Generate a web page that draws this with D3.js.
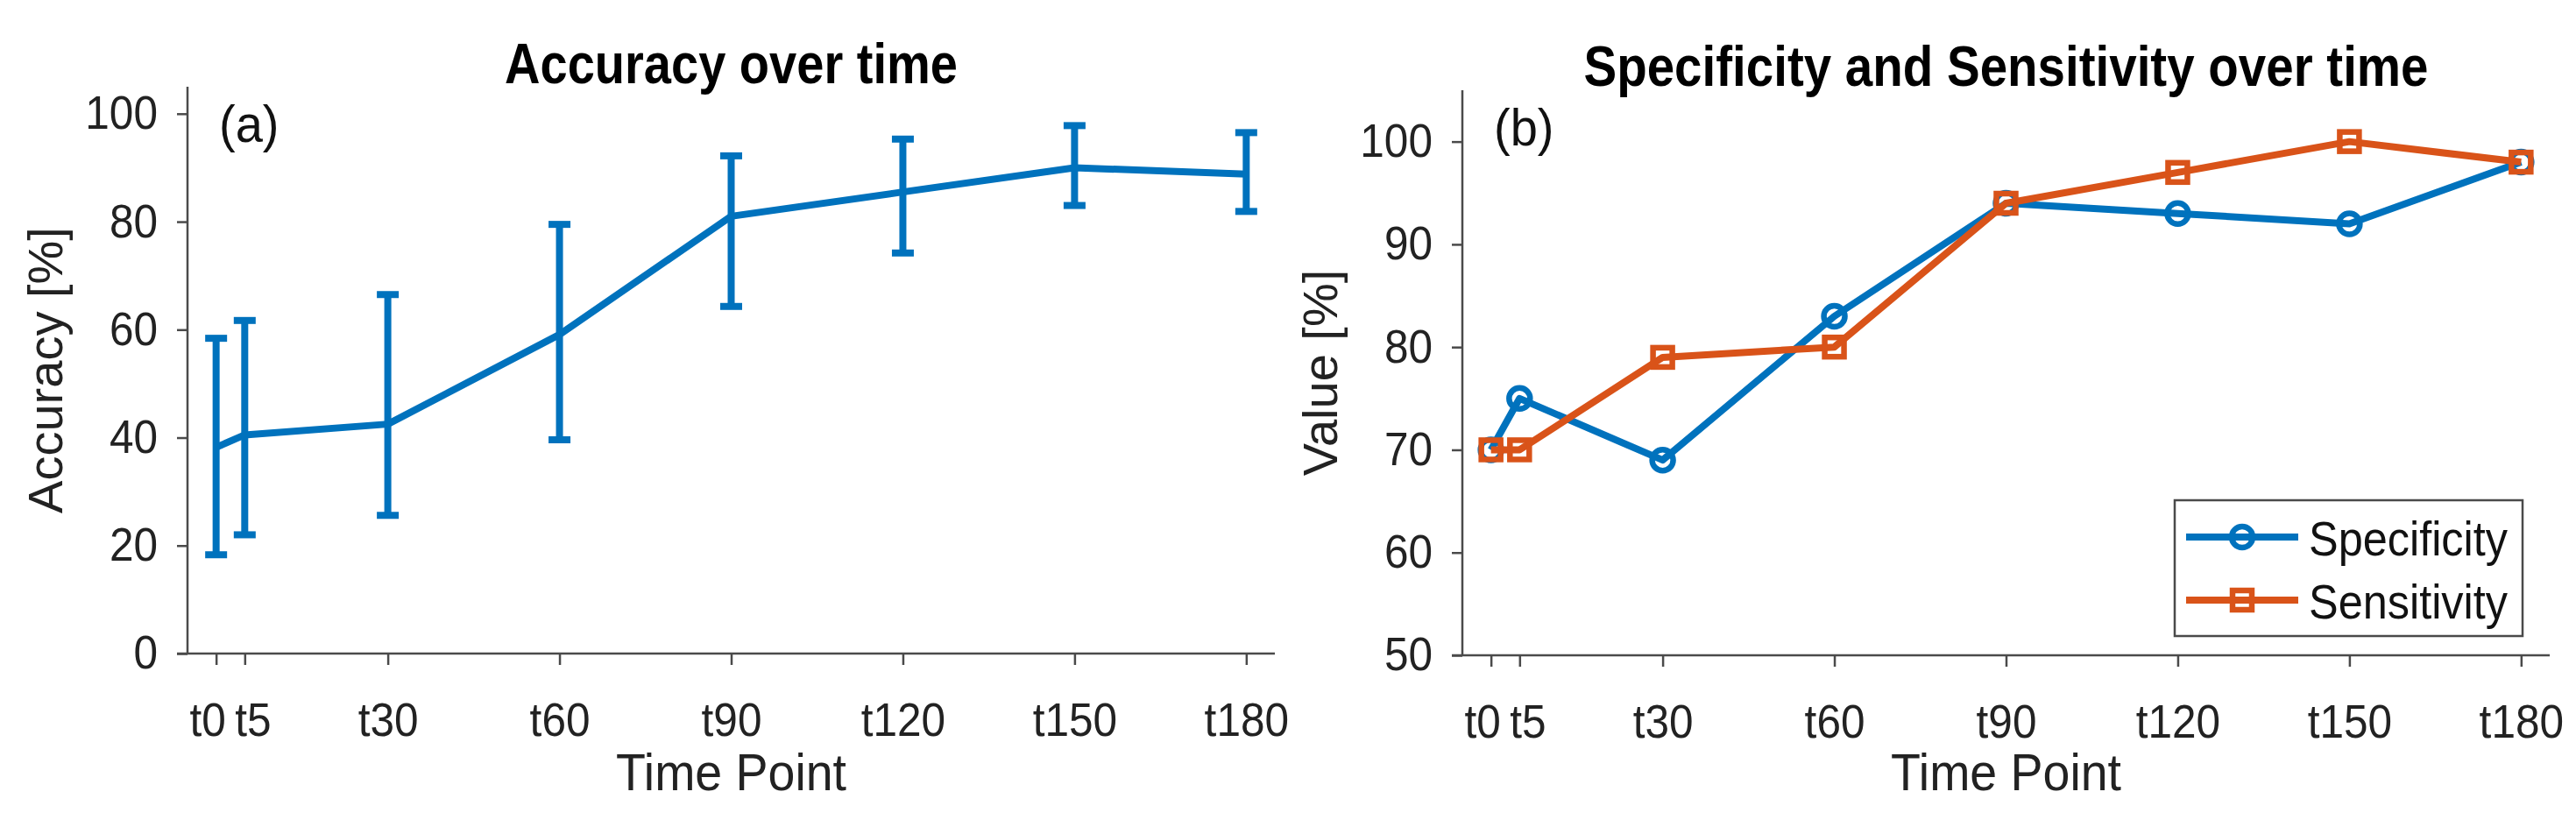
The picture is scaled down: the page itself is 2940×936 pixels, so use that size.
<!DOCTYPE html>
<html lang="en">
<head>
<meta charset="utf-8">
<title>Accuracy, Specificity and Sensitivity over time</title>
<script src="https://cdn.jsdelivr.net/npm/d3@7"></script>
<style>
  body { margin: 0; background: #fff; }
  svg { display: block; font-family: "Liberation Sans", Arial, sans-serif; }
</style>
</head>
<body>
<script>
// data
var timeLabels = ["t0", "t5", "t30", "t60", "t90", "t120", "t150", "t180"];
var timeMinutes = [0, 5, 30, 60, 90, 120, 150, 180];

var accMean  = [38.2, 40.5, 42.5, 59.1, 81.0, 85.5, 90.0, 88.8];
var accLower = [18.3, 22.0, 25.6, 39.6, 64.3, 74.2, 83.0, 81.9];
var accUpper = [58.4, 61.7, 66.5, 79.5, 92.2, 95.3, 97.8, 96.5];

var specificity = [70, 75, 69, 83, 94, 93, 92, 98];
var sensitivity = [70, 70, 79, 80, 94, 97, 100, 98];

var accTicks = [0, 20, 40, 60, 80, 100];
var valTicks = [50, 60, 70, 80, 90, 100];

var blue = "#0072BD";
var orange = "#D95319";
var axisColor = "#4a4a4a";

var w = 2940, h = 936;

var svg = d3.select("body").append("svg")
    .attr("width", w)
    .attr("height", h);

svg.append("rect").attr("width", w).attr("height", h).attr("fill", "#fff");

// the original text is a bit taller than it is wide: use a bigger font and pull the width back in
function squeeze(sel, f) {
    sel.each(function() {
        var len = this.getComputedTextLength();
        d3.select(this)
            .attr("textLength", len * f)
            .attr("lengthAdjust", "spacingAndGlyphs");
    });
}

// draws axes, ticks, labels for one panel and returns its scales
function makePanel(opt) {
    var x = d3.scaleLinear().domain([-5, 185]).range(opt.xRange);
    var y = d3.scaleLinear().domain(opt.yDomain).range(opt.yRange);
    var g = svg.append("g");

    var xAxis = d3.axisBottom(x)
        .tickValues(timeMinutes)
        .tickFormat(function(d, i) { return timeLabels[i]; })
        .tickSize(13)
        .tickPadding(43);
    var gx = g.append("g")
        .attr("transform", "translate(0," + opt.yRange[0] + ")")
        .call(xAxis);

    var yAxis = d3.axisLeft(y)
        .tickValues(opt.ticks)
        .tickSize(12)
        .tickPadding(22);
    var gy = g.append("g")
        .attr("transform", "translate(" + opt.xRange[0] + ",0)")
        .call(yAxis);

    [gx, gy].forEach(function(a) {
        a.select(".domain").remove();
        a.selectAll(".tick line").attr("stroke", axisColor).attr("stroke-width", 2.5);
        a.selectAll(".tick text")
            .attr("fill", "#222")
            .attr("font-size", "53px")
            .attr("font-family", "Liberation Sans, Arial, sans-serif")
            .call(squeeze, 0.935);
    });

    // t0 and t5 sit close: nudge them apart as in the original
    gx.selectAll(".tick text")
        .attr("dx", function(d, i) { return i === 0 ? -10 : (i === 1 ? 9 : 0); });

    // axis lines (x line runs out under the y ticks, like the original)
    g.append("line")
        .attr("x1", opt.xRange[0] - 12).attr("x2", opt.xRange[1])
        .attr("y1", opt.yRange[0]).attr("y2", opt.yRange[0])
        .attr("stroke", axisColor).attr("stroke-width", 2.5);
    g.append("line")
        .attr("x1", opt.xRange[0]).attr("x2", opt.xRange[0])
        .attr("y1", opt.yRange[0]).attr("y2", opt.yRange[1])
        .attr("stroke", axisColor).attr("stroke-width", 2.5);

    var cx = (opt.xRange[0] + opt.xRange[1]) / 2;
    var cy = (opt.yRange[0] + opt.yRange[1]) / 2;

    g.append("text")
        .attr("x", cx).attr("y", opt.titleY)
        .attr("text-anchor", "middle")
        .attr("font-size", "64px")
        .attr("font-weight", "bold")
        .attr("textLength", opt.titleWidth)
        .attr("lengthAdjust", "spacingAndGlyphs")
        .attr("fill", "#000")
        .text(opt.title);

    g.append("text")
        .attr("x", cx).attr("y", 902)
        .attr("text-anchor", "middle")
        .attr("font-size", "59px")
        .attr("fill", "#222")
        .text("Time Point")
        .call(squeeze, 0.94);

    g.append("text")
        .attr("transform", "translate(" + (opt.xRange[0] - 143) + "," + cy + ") rotate(-90)")
        .attr("text-anchor", "middle")
        .attr("font-size", "56px")
        .attr("fill", "#222")
        .text(opt.yLabel);

    g.append("text")
        .attr("x", opt.xRange[0] + 36).attr("y", opt.yRange[1] + 63)
        .attr("font-size", "59px")
        .attr("fill", "#111")
        .text(opt.tag)
        .call(squeeze, 0.95);

    return { g: g, x: x, y: y };
}

// ---- panel (a)
var pa = makePanel({
    xRange: [214, 1455], yRange: [746, 99], yDomain: [0, 105], ticks: accTicks,
    title: "Accuracy over time", titleY: 95, titleWidth: 517,
    yLabel: "Accuracy [%]", tag: "(a)"
});

var accLine = d3.line()
    .x(function(d, i) { return pa.x(timeMinutes[i]); })
    .y(function(d) { return pa.y(d); });

pa.g.append("path")
    .datum(accMean)
    .attr("d", accLine)
    .attr("fill", "none")
    .attr("stroke", blue)
    .attr("stroke-width", 8)
    .attr("stroke-linejoin", "round");

var capW = 12.5;
var bars = pa.g.selectAll(".ebar")
    .data(timeMinutes)
    .enter().append("g")
    .attr("class", "ebar")
    .attr("stroke", blue)
    .attr("stroke-width", 8);
bars.append("line")
    .attr("x1", function(d) { return pa.x(d); })
    .attr("x2", function(d) { return pa.x(d); })
    .attr("y1", function(d, i) { return pa.y(accLower[i]); })
    .attr("y2", function(d, i) { return pa.y(accUpper[i]); });
bars.append("line")
    .attr("x1", function(d) { return pa.x(d) - capW; })
    .attr("x2", function(d) { return pa.x(d) + capW; })
    .attr("y1", function(d, i) { return pa.y(accUpper[i]); })
    .attr("y2", function(d, i) { return pa.y(accUpper[i]); });
bars.append("line")
    .attr("x1", function(d) { return pa.x(d) - capW; })
    .attr("x2", function(d) { return pa.x(d) + capW; })
    .attr("y1", function(d, i) { return pa.y(accLower[i]); })
    .attr("y2", function(d, i) { return pa.y(accLower[i]); });

// ---- panel (b)
var pb = makePanel({
    xRange: [1669, 2910], yRange: [748, 103], yDomain: [50, 105], ticks: valTicks,
    title: "Specificity and Sensitivity over time", titleY: 98, titleWidth: 964,
    yLabel: "Value [%]", tag: "(b)"
});

var valLine = d3.line()
    .x(function(d, i) { return pb.x(timeMinutes[i]); })
    .y(function(d) { return pb.y(d); });

var series = [
    { name: "Specificity", values: specificity, color: blue, marker: "circle" },
    { name: "Sensitivity", values: sensitivity, color: orange, marker: "square" }
];

function drawMarker(sel, s, cx, cy) {
    if (s.marker === "circle") {
        sel.append("circle")
            .attr("cx", cx).attr("cy", cy).attr("r", 12)
            .attr("fill", "none").attr("stroke", s.color).attr("stroke-width", 6.5);
    } else {
        sel.append("rect")
            .attr("x", cx - 11).attr("y", cy - 11)
            .attr("width", 22).attr("height", 22)
            .attr("fill", "none").attr("stroke", s.color).attr("stroke-width", 6.5);
    }
}

series.forEach(function(s) {
    var sg = pb.g.append("g");
    sg.append("path")
        .datum(s.values)
        .attr("d", valLine)
        .attr("fill", "none")
        .attr("stroke", s.color)
        .attr("stroke-width", 8)
        .attr("stroke-linejoin", "round");
    s.values.forEach(function(v, i) {
        drawMarker(sg, s, pb.x(timeMinutes[i]), pb.y(v));
    });
});

// legend
var leg = pb.g.append("g");
leg.append("rect")
    .attr("x", 2482).attr("y", 571)
    .attr("width", 397).attr("height", 155)
    .attr("fill", "#fff")
    .attr("stroke", axisColor).attr("stroke-width", 2.5);
series.forEach(function(s, i) {
    var ry = 613 + i * 72;
    leg.append("line")
        .attr("x1", 2495).attr("x2", 2623)
        .attr("y1", ry).attr("y2", ry)
        .attr("stroke", s.color).attr("stroke-width", 8);
    drawMarker(leg, s, 2559, ry);
    leg.append("text")
        .attr("x", 2635).attr("y", ry + 21)
        .attr("font-size", "55px")
        .attr("fill", "#111")
        .attr("textLength", 227)
        .attr("lengthAdjust", "spacingAndGlyphs")
        .text(s.name);
});
</script>
</body>
</html>
